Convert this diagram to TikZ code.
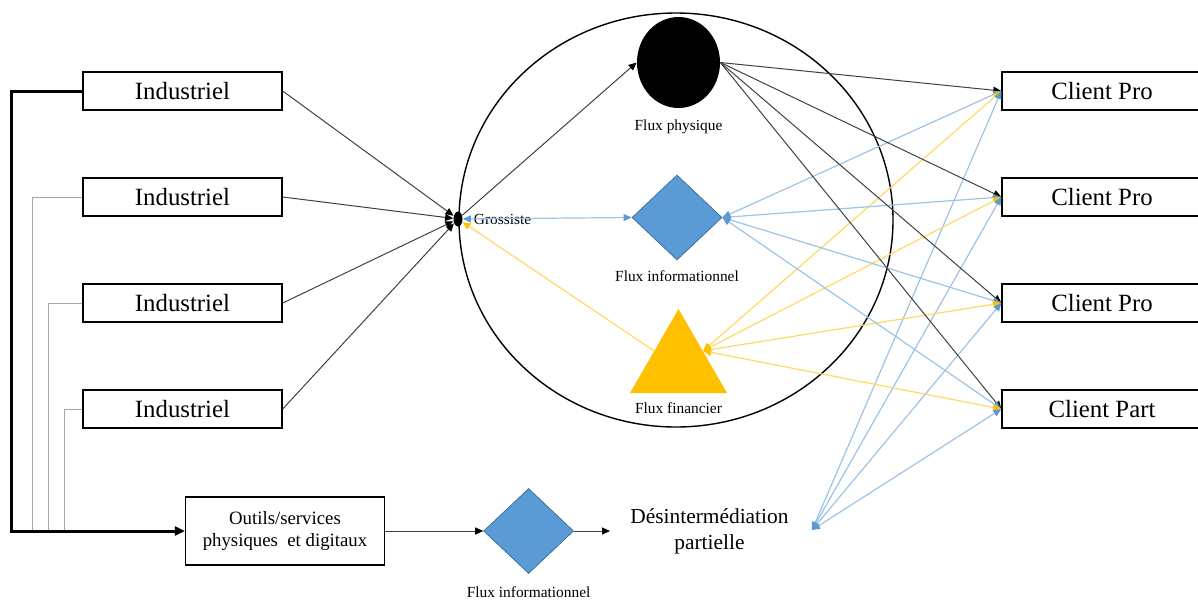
\documentclass[tikz,border=0pt]{standalone}
\usepackage{fontspec}
\setmainfont{Liberation Serif}
\usetikzlibrary{arrows.meta, positioning, calc, shapes.geometric}

\definecolor{infoblue}{HTML}{5B9BD5}
\definecolor{infoline}{HTML}{9DC3E6}
\definecolor{infoedge}{HTML}{41719C}
\definecolor{finyellow}{HTML}{FFC000}
\definecolor{finline}{HTML}{FFD966}
\definecolor{physline}{HTML}{404040}

\begin{document}
\begin{tikzpicture}[
  x=0.5pt, y=-0.5pt,
  block/.style = {draw, line width=0.7pt, minimum height=19pt, minimum width=99.5pt, font=\fontsize{12.4}{14}\selectfont},
  small/.style = {font=\fontsize{7.7}{9}\selectfont},
  infodiamond/.style = {diamond, fill=infoblue, draw=infoedge, line width=0.4pt, minimum width=45pt, minimum height=42.5pt, inner sep=0pt},
  physarrow/.style = {draw=physline, line width=0.5pt, -{Triangle[length=4pt, width=3.5pt, color=black]}},
  infoarrow/.style = {draw=infoline, line width=0.6pt, {Triangle[length=4pt, width=3.5pt, color=infoblue]}-{Triangle[length=4pt, width=3.5pt, color=infoblue]}},
  finarrow/.style = {draw=finline, line width=0.6pt, {Triangle[length=4pt, width=3.5pt, color=finyellow]}-{Triangle[length=4pt, width=3.5pt, color=finyellow]}},
  finback/.style = {draw=finline, line width=0.6pt, -{Triangle[length=4pt, width=3.5pt, color=finyellow]}},
  feed/.style = {draw=gray!70, line width=0.4pt},
  node distance=33.3pt
]
  \useasboundingbox (0,0) rectangle (1198,600);

  % Grossiste circle
  \node[ellipse, draw, line width=0.7pt, minimum width=217pt, minimum height=207pt] (cercle) at (676,220) {};

  % Industriels
  \node[block] (ind1) at (182.5,91) {Industriel};
  \node[block, below=of ind1] (ind2) {Industriel};
  \node[block, below=of ind2] (ind3) {Industriel};
  \node[block, below=of ind3] (ind4) {Industriel};

  % Clients
  \node[block, minimum width=100pt] (cli1) at (1102,91) {Client Pro};
  \node[block, minimum width=100pt, below=of cli1] (cli2) {Client Pro};
  \node[block, minimum width=100pt, below=of cli2] (cli3) {Client Pro};
  \node[block, minimum width=100pt, below=of cli3] (cli4) {Client Part};

  % Grossiste
  \node[ellipse, fill=black, minimum width=4.5pt, minimum height=7.5pt, inner sep=0pt] (gros) at (458,219) {};
  \node[small, right=2pt of gros] (groslbl) {Grossiste};

  % Flux inside the circle
  \node[ellipse, fill=black, minimum width=41.5pt, minimum height=45.5pt, inner sep=0pt] (phys) at (678.5,62.5) {};
  \node[small, below=2pt of phys] (physlbl) {Flux physique};
  \node[infodiamond] (info) at (677,217.5) {};
  \node[small, below=1.5pt of info] (infolbl) {Flux informationnel};
  \node[regular polygon, regular polygon sides=3, fill=finyellow, minimum size=56pt, inner sep=0pt] (fin) at (678.5,365) {};
  \node[small, below=1pt of fin] (finlbl) {Flux financier};

  % Outils / services
  \node[block, minimum height=34pt, align=center, font=\fontsize{9.4}{11}\selectfont] (outils) at (285,531) {Outils/services\\ physiques~ et digitaux};
  \node[infodiamond, right=49pt of outils] (info2) {};
  \node[small, below=3pt of info2] (info2lbl) {Flux informationnel};
  \node[right=18pt of info2, align=center, inner xsep=10pt, font=\fontsize{10.7}{13}\selectfont] (desint) {Désintermédiation\\ partielle};
  \coordinate (desintpt) at (812,530);

  % industriels -> grossiste
  \foreach \i in {1,...,4}
    \draw[physarrow] (ind\i.east) -- (gros);

  % grossiste -> flux
  \draw[physarrow] (gros) -- (phys.west);
  \draw[infoarrow] (gros) -- (info.west);
  \draw[finback] (fin.side 1) -- (gros);

  % flux <-> clients
  \foreach \i in {1,...,4} {
    \draw[physarrow] (phys.east) -- (cli\i.west);
    \draw[infoarrow] (info.east) -- (cli\i.west);
    \draw[finarrow] (fin.side 3) -- (cli\i.west);
    \draw[infoarrow] (desintpt) -- (cli\i.west);
  }

  % industriels -> outils
  \coordinate (bus1) at (11,531);
  \coordinate (bus2) at (32,531);
  \coordinate (bus3) at (48,531);
  \coordinate (bus4) at (64,531);
  \foreach \i in {2,3,4}
    \draw[feed] (ind\i.west) -| (bus\i);
  \draw[line width=1.5pt, -{Triangle[length=5pt, width=4.5pt]}] (ind1.west) -| (bus1) -- (outils.west);

  % outils -> desintermediation
  \draw[physarrow] (outils.east) -- (info2.west);
  \draw[physarrow] (info2.east) -- (desint.west);

\end{tikzpicture}
\end{document}
